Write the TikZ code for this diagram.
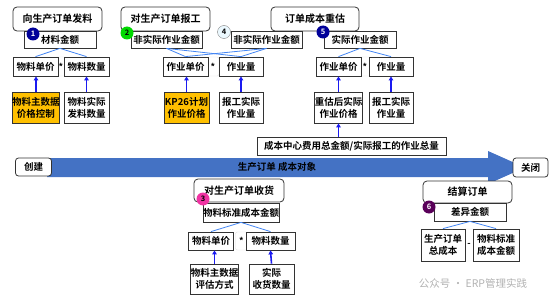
\documentclass[tikz,border=0pt]{standalone}
\usepackage{fontspec}
\setmainfont{Noto Sans CJK SC}[BoldFont={Noto Sans CJK SC Bold}]
\usetikzlibrary{arrows.meta}
\definecolor{boxline}{HTML}{333333}
\definecolor{bandblue}{HTML}{4472C4}
\definecolor{linkblue}{HTML}{4285F4}
\definecolor{feedblue}{HTML}{1A1AF0}
\definecolor{priceyellow}{HTML}{FFC000}

\begin{document}
\begin{tikzpicture}[x=1pt, y=-1pt, >={Triangle[length=4pt,width=4.5pt]},
  every node/.style={font=\bfseries\fontsize{9.5}{12}\selectfont, inner sep=0pt, align=center},
  hdr/.style={draw=boxline, fill=white, line width=0.8pt, rounded corners=4pt,
    minimum width=89pt, minimum height=24pt, font=\bfseries\fontsize{10}{12}\selectfont},
  amt/.style={draw=boxline, fill=white, line width=0.8pt, minimum width=72pt, minimum height=17pt},
  fac/.style={draw=boxline, fill=white, line width=0.8pt, minimum width=45pt, minimum height=19pt},
  src/.style={draw=boxline, fill=white, line width=0.8pt, minimum width=45pt, minimum height=31pt},
  ends/.style={draw=boxline, fill=white, line width=0.8pt, rounded corners=3pt,
    minimum width=36pt, minimum height=18pt},
  op/.style={draw=gray!25, rounded corners=2pt, minimum width=12pt, minimum height=19pt,
    font=\bfseries\fontsize{9}{10}\selectfont},
  num/.style={circle, minimum size=13pt, font=\bfseries\fontsize{7.5}{7.5}\selectfont},
  link/.style={linkblue, line width=0.8pt},
  feed/.style={->, feedblue, line width=1.6pt}]

  \useasboundingbox (0,0) rectangle (554,305);

  % lifecycle band
  \fill[bandblue] (47,158) -- (488,158) -- (488,151) -- (525,167.5)
    -- (488,184) -- (488,177) -- (47,177) -- cycle;
  \node[ends] (create) at (33.5,167) {创建};
  \node[ends, minimum width=35pt, minimum height=19pt] (close) at (530.5,167.5) {关闭};
  \node (object) at (277,167) {生产订单 成本对象};

  % operators
  \node[op] (m1) at (61,66.5) {*};
  \node[op] (m2) at (213,66.5) {*};
  \node[op] (m5) at (365,66.5) {*};
  \node[op, minimum height=18pt] (m3) at (241.5,241) {*};
  \node[op, minimum height=32pt] (m6) at (469,245) {-};

  % 1 goods issue
  \node[hdr] (h1) at (57.5,19) {向生产订单发料};
  \node[amt] (a1) at (60,39.5) {材料金额};
  \node[num, fill=blue!60!black, text=white] (n1) at (33,34) {1};
  \node[fac] (f11) at (35.5,66.5) {物料单价};
  \node[fac] (f12) at (86.5,66.5) {物料数量};
  \node[src, fill=priceyellow] (s11) at (36,107.5) {物料主数据\\价格控制};
  \node[src] (s12) at (86.5,107.5) {物料实际\\发料数量};

  % 2 and 4 confirmations
  \node[hdr] (h2) at (165.5,19) {对生产订单报工};
  \node[amt, minimum width=71pt] (a2) at (166.5,39.5) {非实际作业金额};
  \node[num, fill=green!85!black] (n2) at (127,33) {2};
  \node[amt, minimum width=71pt] (a4) at (266.5,39.5) {非实际作业金额};
  \node[num, draw=gray, fill=cyan!8] (n4) at (224,32) {4};
  \node[fac] (f21) at (185.5,66.5) {作业单价};
  \node[fac, minimum width=44pt] (f22) at (241,66.5) {作业量};
  \node[src, fill=priceyellow] (s21) at (186.5,107.5) {KP26计划\\作业价格};
  \node[src, minimum width=44pt] (s22) at (241,107.5) {报工实际\\作业量};

  % 5 revaluation
  \node[hdr, minimum width=88pt] (h5) at (315,19) {订单成本重估};
  \node[amt] (a5) at (360,39.5) {实际作业金额};
  \node[num, fill=blue!60!black, text=white] (n5) at (323,32) {5};
  \node[fac] (f51) at (338.5,66.5) {作业单价};
  \node[fac, minimum width=44pt] (f52) at (391,66.5) {作业量};
  \node[src] (s51) at (338.5,107.5) {重估后实际\\作业价格};
  \node[src, minimum width=44pt] (s52) at (391,107.5) {报工实际\\作业量};
  \node[amt, minimum width=189pt, minimum height=18pt] (cc) at (351.5,146)
    {成本中心费用总金额/实际报工的作业总量};

  % 3 goods receipt
  \node[hdr, minimum width=90pt, minimum height=23pt] (h3) at (239,190.5) {对生产订单收货};
  \node[amt, minimum height=19pt] (a3) at (241,212.5) {物料标准成本金额};
  \node[num, fill=magenta!80] (n3) at (203,199) {3};
  \node[fac, minimum height=18pt] (f31) at (211,241) {物料单价};
  \node[fac, minimum width=49pt, minimum height=18pt] (f32) at (270.5,241) {物料数量};
  \node[src, minimum height=30pt] (s31) at (214.5,279) {物料主数据\\评估方式};
  \node[src, minimum height=30pt] (s32) at (271.5,279) {实际\\收货数量};

  % 6 settlement
  \node[hdr, minimum height=22pt] (h6) at (467.5,192) {结算订单};
  \node[amt, minimum height=18pt] (a6) at (470,212) {差异金额};
  \node[num, fill=violet!70!black, text=white] (n6) at (429,207) {6};
  \node[src, minimum width=44pt, minimum height=32pt] (s61) at (443,245) {生产订单\\总成本};
  \node[src, minimum width=46pt, minimum height=32pt] (s62) at (496,245) {物料标准\\成本金额};

  \node[text=gray!60, font=\fontsize{10.5}{12}\selectfont] (mark) at (473,283) {公众号 · ERP管理实践};

  % splits
  \draw[link] (a1.south) -- (f11.north);
  \draw[link] (a1.south) -- (f12.north);
  \draw[link] (a2.south) -- (f21.north);
  \draw[link] (a2.south) -- (f22.north);
  \draw[link] (a4.south) -- (f21.north);
  \draw[link] (a4.south) -- (f22.north);
  \draw[link] (a5.south) -- (f51.north);
  \draw[link] (a5.south) -- (f52.north);
  \draw[link] (a3.south) -- (f31.north);
  \draw[link] (a3.south) -- (f32.north);
  \draw[link] (a6.south) -- (s61.north);
  \draw[link] (a6.south) -- (s62.north);

  % sources
  \draw[feed] (s11.north) -- (s11.north |- f11.south);
  \draw[feed] (s12.north) -- (f12.south);
  \draw[feed] (s21.north) -- (s21.north |- f21.south);
  \draw[feed] (s22.north) -- (f22.south);
  \draw[feed] (s51.north) -- (f51.south);
  \draw[feed] (s52.north) -- (f52.south);
  \draw[feed] (s51.south |- cc.north) -- (s51.south);
  \draw[feed] (s31.north) -- (s31.north |- f31.south);
  \draw[feed] (s32.north) -- (f32.south);
\end{tikzpicture}
\end{document}
